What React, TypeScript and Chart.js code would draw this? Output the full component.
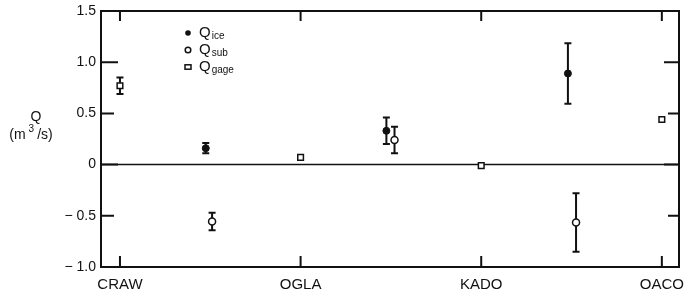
import React, { useEffect, useRef } from "react";
import { Chart, registerables } from "chart.js";
Chart.register(...registerables);

const stationLabels = ["CRAW", "OGLA", "KADO", "OACO"];
const stationPositions = [0, 2, 4, 6];
const yTickValues = [-1, -0.5, 0, 0.5, 1, 1.5];

const iceX = [0.95, 2.95, 4.96];
const iceY = [0.16, 0.33, 0.89];
const iceErr = [0.05, 0.13, 0.295];

const subX = [1.02, 3.04, 5.05];
const subY = [-0.555, 0.24, -0.565];
const subErr = [0.085, 0.13, 0.285];

const gageX = [0, 2, 4, 6];
const gageY = [0.77, 0.07, -0.01, 0.44];
const gageErr = [0.08, 0.0, 0.0, 0.0];

const legendItems = [
  { main: "Q", sub: "ice", style: "dot" },
  { main: "Q", sub: "sub", style: "circle" },
  { main: "Q", sub: "gage", style: "square" },
];

const FONT = "'Liberation Sans', Arial, Helvetica, sans-serif";
const INK = "#111";

const errorBarPlugin = {
  id: "errorBars",
  beforeDatasetsDraw(chart: any) {
    const ctx = chart.ctx;
    const xs = chart.scales.x;
    const ys = chart.scales.y;
    chart.data.datasets.forEach((ds: any) => {
      const errs: number[] = ds.errors || [];
      ds.data.forEach((p: any, i: number) => {
        const e = errs[i];
        if (!e) return;
        const px = xs.getPixelForValue(p.x);
        const top = ys.getPixelForValue(p.y + e);
        const bot = ys.getPixelForValue(p.y - e);
        ctx.save();
        ctx.strokeStyle = INK;
        ctx.lineWidth = 2;
        ctx.beginPath();
        ctx.moveTo(px, top);
        ctx.lineTo(px, bot);
        ctx.moveTo(px - 3.5, top);
        ctx.lineTo(px + 3.5, top);
        ctx.moveTo(px - 3.5, bot);
        ctx.lineTo(px + 3.5, bot);
        ctx.stroke();
        ctx.restore();
      });
    });
  },
};

const framePlugin = {
  id: "frame",
  beforeDatasetsDraw(chart: any) {
    const ctx = chart.ctx;
    const { left, right, top, bottom } = chart.chartArea;
    const xs = chart.scales.x;
    const ys = chart.scales.y;
    ctx.save();
    ctx.strokeStyle = INK;
    ctx.lineWidth = 1.5;
    const y0 = ys.getPixelForValue(0);
    ctx.beginPath();
    ctx.moveTo(left, y0);
    ctx.lineTo(right, y0);
    ctx.stroke();
    ctx.lineWidth = 2;
    ctx.strokeRect(left, top, right - left, bottom - top);
    stationPositions.forEach((v) => {
      const px = xs.getPixelForValue(v);
      ctx.beginPath();
      ctx.moveTo(px, bottom);
      ctx.lineTo(px, bottom - 11);
      ctx.moveTo(px, top);
      ctx.lineTo(px, top + 10);
      ctx.stroke();
    });
    yTickValues.forEach((v) => {
      const py = ys.getPixelForValue(v);
      const len = Number.isInteger(v) ? 17 : 13;
      ctx.beginPath();
      ctx.moveTo(left, py);
      ctx.lineTo(left + len, py);
      ctx.moveTo(right, py);
      ctx.lineTo(right - len + 2, py);
      ctx.stroke();
    });
    ctx.restore();
  },
};

const textPlugin = {
  id: "texts",
  afterDraw(chart: any) {
    const ctx = chart.ctx;
    ctx.save();
    ctx.fillStyle = INK;
    ctx.strokeStyle = INK;
    ctx.textBaseline = "middle";
    const lx = 188;
    const tx = 199;
    const rows = [33, 50, 67];
    legendItems.forEach((it, i) => {
      const y = rows[i];
      ctx.lineWidth = 1.5;
      if (it.style === "dot") {
        ctx.beginPath();
        ctx.arc(lx, y, 2.8, 0, Math.PI * 2);
        ctx.fill();
      } else if (it.style === "circle") {
        ctx.beginPath();
        ctx.arc(lx, y, 2.8, 0, Math.PI * 2);
        ctx.stroke();
      } else {
        ctx.strokeRect(lx - 3, y - 2.2, 6, 4.4);
      }
      ctx.font = `15px ${FONT}`;
      ctx.textAlign = "left";
      ctx.fillText(it.main, tx, y);
      const w = ctx.measureText(it.main).width;
      ctx.font = `10px ${FONT}`;
      ctx.fillText(it.sub, tx + w + 1, y + 3);
    });
    ctx.font = `14px ${FONT}`;
    ctx.textAlign = "center";
    ctx.fillText("Q", 36, 117);
    const p1 = "(m";
    const p2 = "3";
    const p3 = "/s)";
    ctx.font = `14px ${FONT}`;
    const w1 = ctx.measureText(p1).width;
    const w3 = ctx.measureText(p3).width;
    ctx.font = `10px ${FONT}`;
    const w2 = ctx.measureText(p2).width;
    const gap = 3;
    const total = w1 + gap + w2 + gap + w3;
    let x = 31 - total / 2;
    ctx.textAlign = "left";
    ctx.font = `14px ${FONT}`;
    ctx.fillText(p1, x, 135);
    x += w1 + gap;
    ctx.font = `10px ${FONT}`;
    ctx.fillText(p2, x, 129);
    x += w2 + gap;
    ctx.font = `14px ${FONT}`;
    ctx.fillText(p3, x, 135);
    ctx.restore();
  },
};

function fmtY(v: number): string {
  if (v === 0) return "0";
  if (v < 0) return "\u2212 " + Math.abs(v).toFixed(1);
  return v.toFixed(1);
}

export default function App() {
  const ref = useRef<HTMLCanvasElement | null>(null);
  useEffect(() => {
    if (!ref.current) return;
    const chart = new Chart(ref.current, {
      type: "scatter",
      data: {
        datasets: [
          {
            label: "Qice",
            data: iceX.map((x, i) => ({ x, y: iceY[i] })),
            errors: iceErr,
            pointStyle: "circle",
            pointRadius: 3.5,
            pointBackgroundColor: INK,
            pointBorderColor: INK,
            pointBorderWidth: 1,
          } as any,
          {
            label: "Qsub",
            data: subX.map((x, i) => ({ x, y: subY[i] })),
            errors: subErr,
            pointStyle: "circle",
            pointRadius: 3.5,
            pointBackgroundColor: "#fff",
            pointBorderColor: INK,
            pointBorderWidth: 1.5,
          } as any,
          {
            label: "Qgage",
            data: gageX.map((x, i) => ({ x, y: gageY[i] })),
            errors: gageErr,
            pointStyle: "rect",
            pointRadius: 4,
            pointBackgroundColor: "#fff",
            pointBorderColor: INK,
            pointBorderWidth: 1.5,
          } as any,
        ],
      },
      options: {
        animation: false,
        responsive: false,
        devicePixelRatio: 1,
        clip: false as any,
        layout: { padding: { top: 11, right: 10, left: 0, bottom: 0 } },
        plugins: {
          legend: { display: false },
          tooltip: { enabled: false },
        },
        scales: {
          x: {
            type: "linear",
            min: -0.21,
            max: 6.19,
            grid: { display: false, drawTicks: false },
            border: { display: false },
            afterBuildTicks: (s: any) => {
              s.ticks = stationPositions.map((v) => ({ value: v }));
            },
            afterFit: (s: any) => {
              s.height = 27;
              s.paddingLeft = 0;
              s.paddingRight = 0;
            },
            ticks: {
              autoSkip: false,
              maxRotation: 0,
              padding: 9,
              color: INK,
              font: { family: FONT, size: 15 },
              callback: (v: any) => stationLabels[stationPositions.indexOf(Number(v))] ?? "",
            },
          },
          y: {
            type: "linear",
            min: -1,
            max: 1.5,
            grid: { display: false, drawTicks: false },
            border: { display: false },
            afterBuildTicks: (s: any) => {
              s.ticks = yTickValues.map((v) => ({ value: v }));
            },
            afterFit: (s: any) => {
              s.width = 101;
              s.paddingTop = 0;
              s.paddingBottom = 0;
            },
            ticks: {
              padding: 5,
              color: INK,
              font: { family: FONT, size: 14 },
              callback: (v: any) => fmtY(Number(v)),
            },
          },
        },
      },
      plugins: [framePlugin, errorBarPlugin, textPlugin],
    });
    return () => chart.destroy();
  }, []);
  return (
    <div style={{ position: "absolute", left: 0, top: 0, width: 689, height: 294, background: "#fff" }}>
      <canvas ref={ref} width={689} height={294} />
    </div>
  );
}
